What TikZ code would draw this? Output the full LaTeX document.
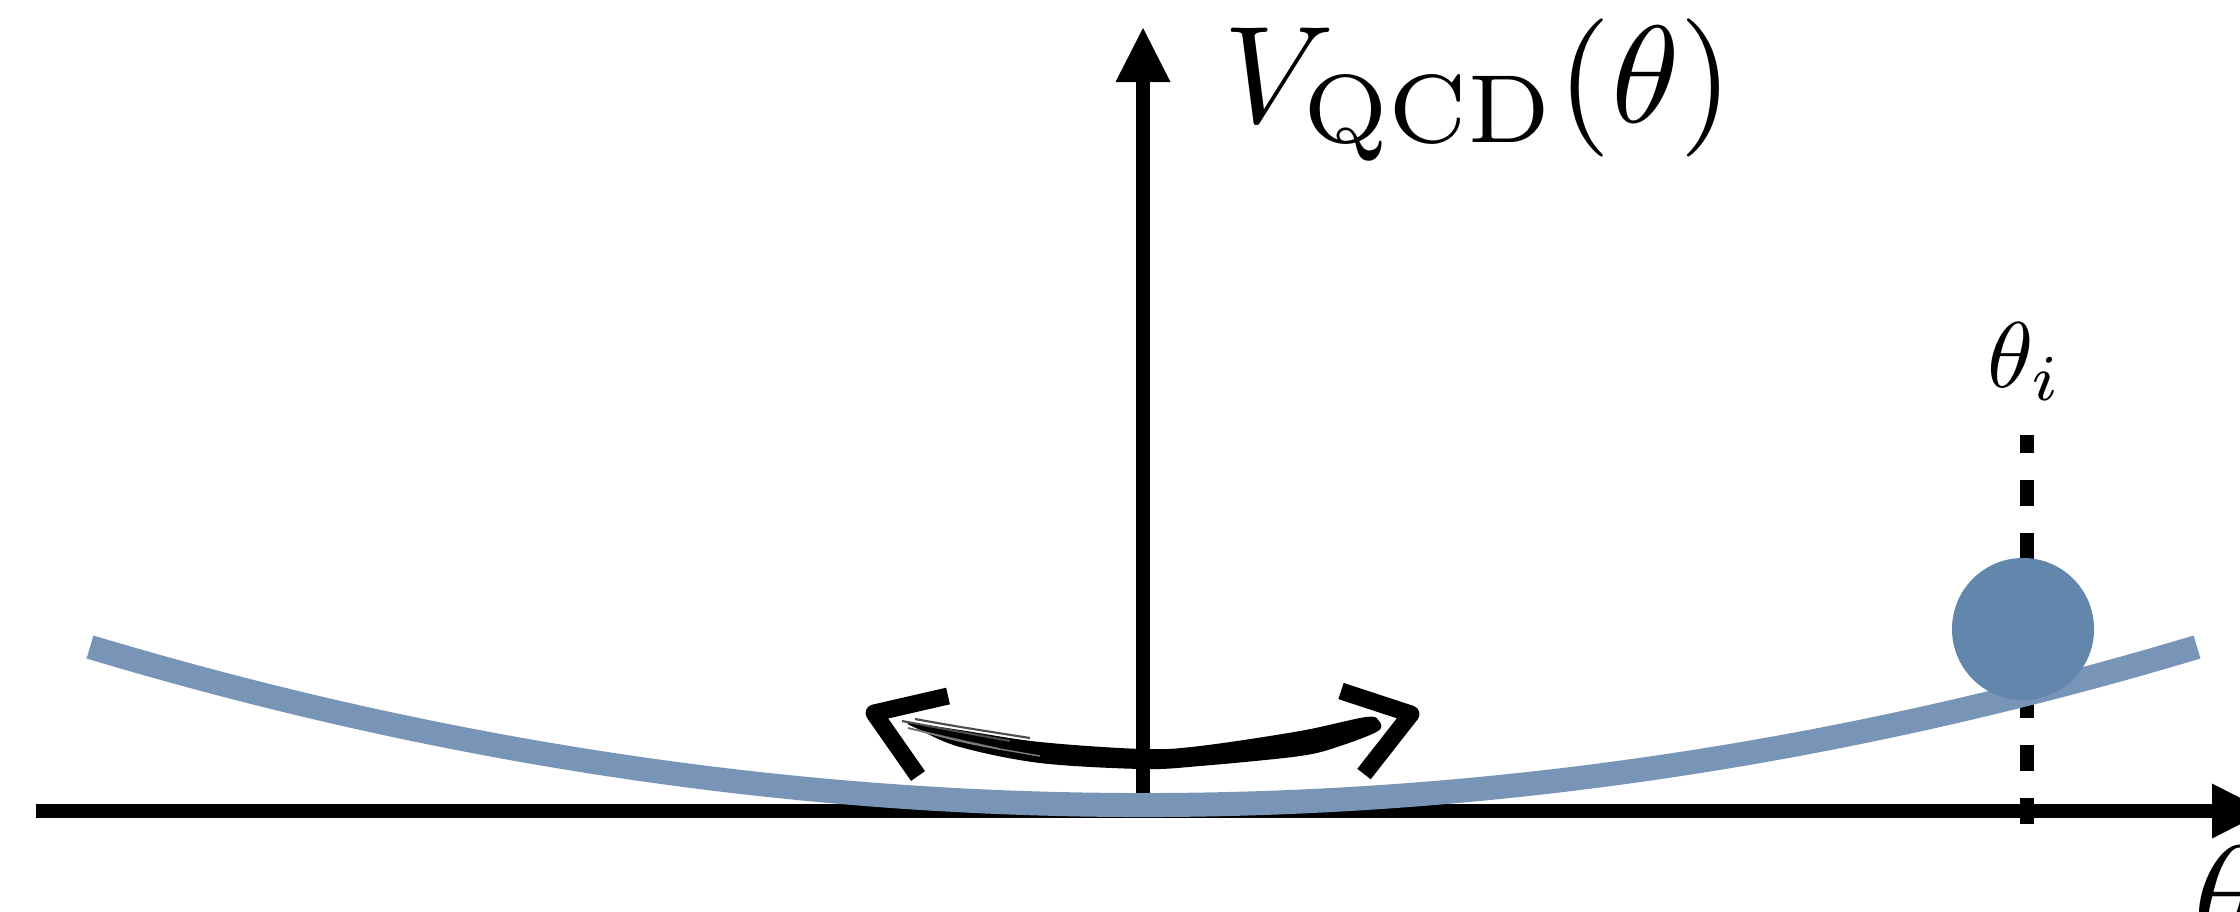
\documentclass[tikz,border=0pt]{standalone}
\usetikzlibrary{arrows.meta}
\definecolor{curveblue}{HTML}{7895B8}
\definecolor{ballblue}{HTML}{6286AC}
\begin{document}
\begin{tikzpicture}[x=0.01cm,y=-0.01cm,
  axis/.style={line width=0.135cm, -{Triangle[length=0.54cm,width=0.55cm,line width=0pt]}},
  dashline/.style={line width=0.135cm, dash pattern=on 0.26cm off 0.27cm},
  potential/.style={curveblue, line width=0.24cm},
  brush/.style={line width=0.17cm, line join=round},
  lbl/.style={inner sep=0pt, outer sep=0pt}]
\useasboundingbox (0,0) rectangle (2240,911);
\clip (0,0) rectangle (2240,911);
% axes
\coordinate (xs) at (36,811);
\coordinate (xe) at (2266,811);
\coordinate (ys) at (1143,805);
\coordinate (ye) at (1143,28);
\draw[axis] (xs) -- (xe);
\draw[axis] (ys) -- (ye);
% dashed marker
\coordinate (d0) at (2027,824);
\coordinate (d1) at (2027,435);
\draw[dashline] (d0) -- (d1);
% potential
\coordinate (p0) at (90,647);
\coordinate (p1) at (2197,647);
\draw[potential] (p0) .. controls (792.3,857.7) and (1494.7,857.7) .. (p1);
% ball
\node[circle, fill=ballblue, minimum size=1.42cm, inner sep=0pt] (ball) at (2023,629) {};
% labels
\node[lbl, anchor=base, scale=2.65] (thi) at (2025,387) {$\theta_i$};
\node[lbl, anchor=base west, scale=3.93] (V) at (1223,122) {$V_{\mathrm{QCD}}(\theta)$};
\node[lbl, anchor=base west, scale=3.93] (th) at (2193,942) {$\theta$};
% brush double arrow
\fill plot[smooth cycle, tension=0.55] coordinates {(910,723) (960,730) (1040,742) (1143,749) (1200,746) (1300,731) (1366,717) (1379,721) (1378,731) (1340,746) (1300,756) (1200,766) (1143,769) (1040,763) (960,747) (918,729)};
\draw[black!70, line width=0.6pt] (902,721) .. controls (950,730) .. (1010,741);
\draw[black!60, line width=0.5pt] (908,728) .. controls (950,738) .. (1000,749);
\draw[black!70, line width=0.6pt] (915,719) .. controls (960,727) .. (1030,738);
\draw[black!50, line width=0.4pt] (920,731) .. controls (970,744) .. (1040,756);
\draw[brush] (948,696) -- (874,713) -- (918,776);
\draw[brush] (1341,691) -- (1411,714) -- (1364,774);
\end{tikzpicture}
\end{document}
